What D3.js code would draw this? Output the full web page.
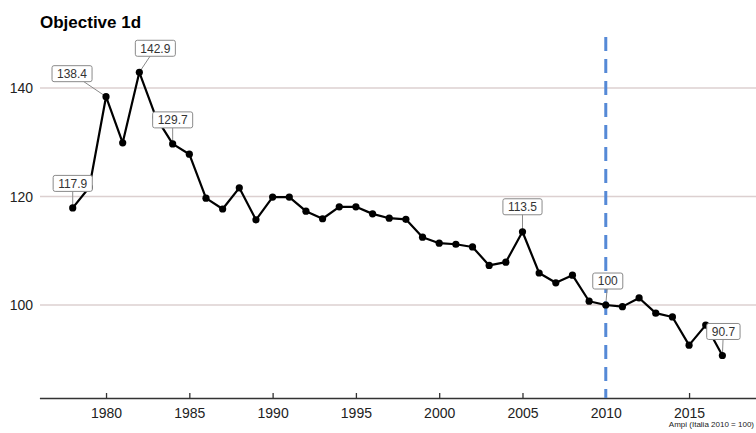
<!DOCTYPE html>
<html><head><meta charset="utf-8">
<script src="https://cdn.jsdelivr.net/npm/d3@7"></script>
<style>
body{margin:0;background:#fff;}
text{font-family:"Liberation Sans",Arial,Helvetica,sans-serif;}
</style></head>
<body>
<svg id="chart" width="756" height="433"></svg>
<script>
const years = [1978,1979,1980,1981,1982,1983,1984,1985,1986,1987,1988,1989,1990,1991,1992,1993,1994,1995,1996,1997,1998,1999,2000,2001,2002,2003,2004,2005,2006,2007,2008,2009,2010,2011,2012,2013,2014,2015,2016,2017];
const values = [117.9,121.7,138.4,129.9,142.9,134.6,129.7,127.8,119.7,117.7,121.6,115.7,119.9,119.9,117.3,115.9,118.1,118.1,116.8,116.0,115.8,112.5,111.4,111.2,110.7,107.3,107.9,113.5,105.9,104.1,105.5,100.7,100.0,99.7,101.3,98.5,97.8,92.6,96.3,90.7];
const labelYears = [1978,1980,1982,1984,2005,2010,2017];
const labelTexts = ["117.9","138.4","142.9","129.7","113.5","100","90.7"];
const yTicks = [100,120,140];
const xTicks = [1980,1985,1990,1995,2000,2005,2010,2015];
const refYear = 2010;
const title = "Objective 1d";
const caption = "Ampi (Italia 2010 = 100)";

// layout offsets for label boxes (box centre relative to point)
const labelOffsets = [[0,-24.5],[-34,-23],[16,-24],[0,-24],[0,-25],[2,-24],[1,-24]];

const svg = d3.select("#chart");
const x = d3.scaleLinear().domain([1976,2019]).range([39.4,755.7]);
const y = d3.scaleLinear().domain([85,150]).range([386.4,33.75]);

// gridlines
svg.append("g").selectAll("line").data(yTicks).join("line")
  .attr("x1",40).attr("x2",756)
  .attr("y1",d=>y(d)).attr("y2",d=>y(d))
  .attr("stroke","#dcd0d0").attr("stroke-width",1.4);

// y tick labels
svg.append("g").selectAll("text").data(yTicks).join("text")
  .attr("x",33).attr("y",d=>y(d)).attr("dy","0.36em")
  .attr("text-anchor","end").attr("font-size",14).attr("fill","#222")
  .text(d=>d);

// x axis
const xAxis = d3.axisBottom(x).tickValues(xTicks).tickFormat(d3.format("d")).tickSizeInner(-5).tickSizeOuter(0).tickPadding(10);
const gx = svg.append("g").attr("transform","translate(0,398)").call(xAxis);
gx.select(".domain").attr("stroke","#333").attr("stroke-width",1.3);
gx.selectAll(".tick line").attr("stroke","#333").attr("stroke-width",1.3);
gx.selectAll(".tick text").attr("font-size",14).attr("fill","#222").attr("font-family","Liberation Sans,Arial,sans-serif");

// reference dashed line
svg.append("line")
  .attr("x1",x(refYear)).attr("x2",x(refYear))
  .attr("y1",37).attr("y2",398)
  .attr("stroke","#5589d6").attr("stroke-width",3)
  .attr("stroke-dasharray","14,8");

const data = years.map((yr,i)=>({yr, v:values[i]}));

// leaders
const labels = labelYears.map((yr,i)=>{
  const v = values[years.indexOf(yr)];
  const px = x(yr), py = y(v);
  return {px, py, cx: px+labelOffsets[i][0], cy: py+labelOffsets[i][1], t: labelTexts[i]};
});
svg.append("g").selectAll("line").data(labels).join("line")
  .attr("x1",d=>d.px).attr("y1",d=>d.py).attr("x2",d=>d.cx).attr("y2",d=>d.cy)
  .attr("stroke","#8a8a8a").attr("stroke-width",1);

// series line
svg.append("path").datum(data)
  .attr("d", d3.line().x(d=>x(d.yr)).y(d=>y(d.v)))
  .attr("fill","none").attr("stroke","#000").attr("stroke-width",2.2).attr("stroke-linejoin","round");

svg.append("g").selectAll("circle").data(data).join("circle")
  .attr("cx",d=>x(d.yr)).attr("cy",d=>y(d.v)).attr("r",3.6).attr("fill","#000");

// label boxes
const lg = svg.append("g").selectAll("g").data(labels).join("g");
lg.append("text").attr("x",d=>d.cx).attr("y",d=>d.cy).attr("dy","0.36em")
  .attr("text-anchor","middle").attr("font-size",12).attr("fill","#333").text(d=>d.t)
  .each(function(d){ d.w = this.getComputedTextLength(); });
lg.insert("rect","text")
  .attr("x",d=>d.cx-d.w/2-5).attr("y",d=>d.cy-8)
  .attr("width",d=>d.w+10).attr("height",16).attr("rx",2)
  .attr("fill","#fff").attr("stroke","#8a8a8a").attr("stroke-width",1);

// title
svg.append("text").attr("x",40).attr("y",28).attr("font-size",17).attr("font-weight","bold").attr("fill","#000").text(title);
// caption
svg.append("text").attr("x",754).attr("y",427).attr("text-anchor","end").attr("font-size",8).attr("fill","#222").text(caption);
</script>
</body></html>
